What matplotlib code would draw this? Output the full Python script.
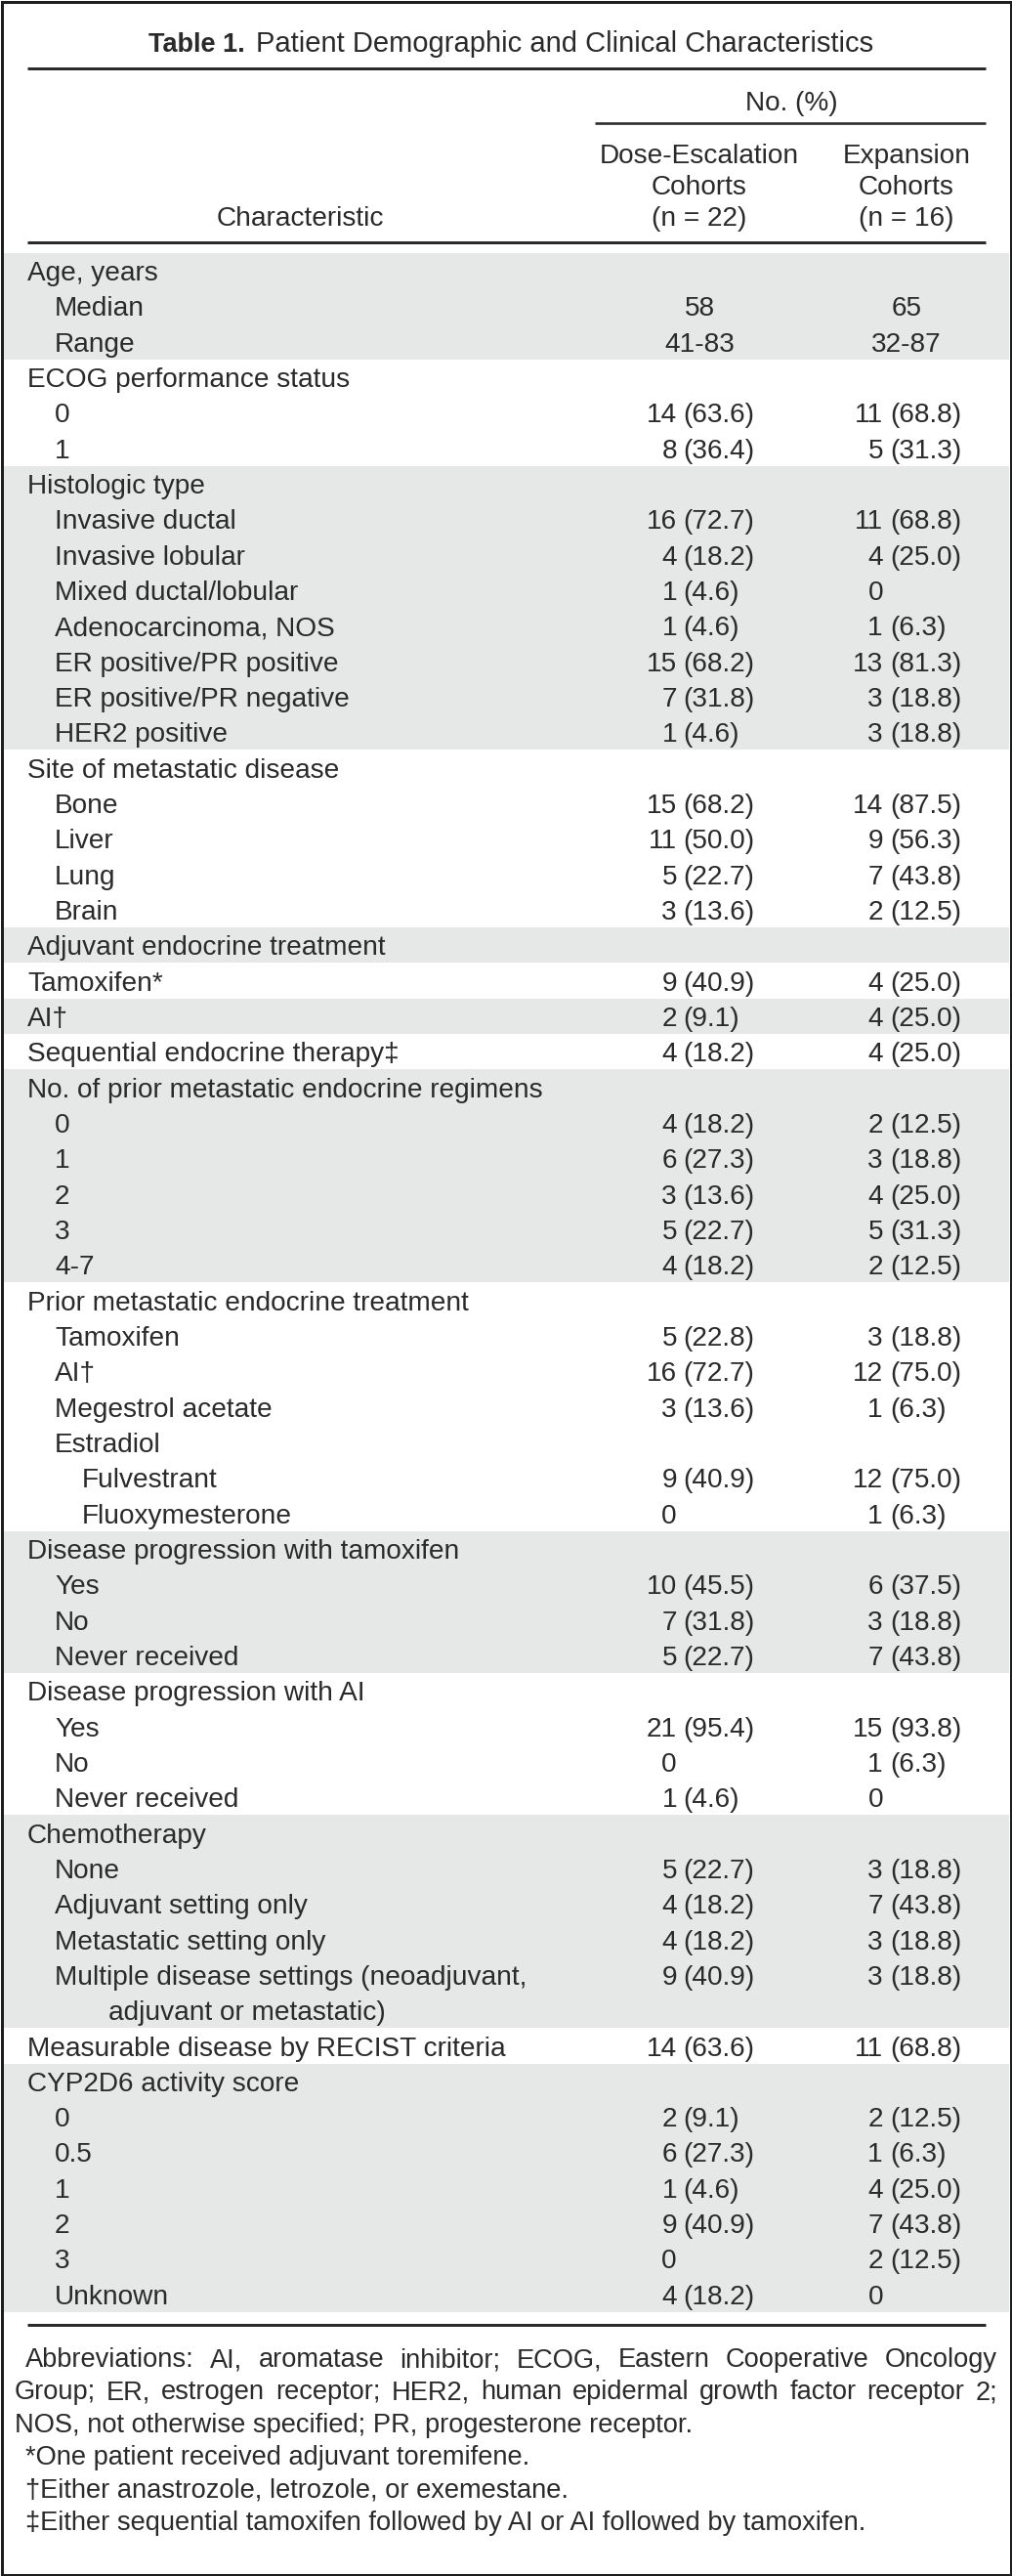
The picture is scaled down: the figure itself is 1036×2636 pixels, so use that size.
import matplotlib
matplotlib.use("Agg")
import matplotlib.pyplot as plt
from matplotlib import font_manager
from matplotlib.patches import Rectangle

# ---- table content ----
title_bold = "Table 1."
title_rest = "Patient Demographic and Clinical Characteristics"
group_header = "No. (%)"
col_headers = [["Dose-Escalation", "Cohorts", "(n = 22)"],
               ["Expansion", "Cohorts", "(n = 16)"]]
stub_header = "Characteristic"

row_labels = [
    "Age, years", "Median", "Range",
    "ECOG performance status", "0", "1",
    "Histologic type", "Invasive ductal", "Invasive lobular", "Mixed ductal/lobular",
    "Adenocarcinoma, NOS", "ER positive/PR positive", "ER positive/PR negative", "HER2 positive",
    "Site of metastatic disease", "Bone", "Liver", "Lung", "Brain",
    "Adjuvant endocrine treatment", "Tamoxifen*", "AI\u2020", "Sequential endocrine therapy\u2021",
    "No. of prior metastatic endocrine regimens", "0", "1", "2", "3", "4-7",
    "Prior metastatic endocrine treatment", "Tamoxifen", "AI\u2020", "Megestrol acetate", "Estradiol",
    "Fulvestrant", "Fluoxymesterone",
    "Disease progression with tamoxifen", "Yes", "No", "Never received",
    "Disease progression with AI", "Yes", "No", "Never received",
    "Chemotherapy", "None", "Adjuvant setting only", "Metastatic setting only",
    "Multiple disease settings (neoadjuvant,", "adjuvant or metastatic)",
    "Measurable disease by RECIST criteria",
    "CYP2D6 activity score", "0", "0.5", "1", "2", "3", "Unknown",
]
row_indent = [0, 1, 1, 0, 1, 1, 0, 1, 1, 1, 1, 1, 1, 1, 0, 1, 1, 1, 1,
              0, 0, 0, 0, 0, 1, 1, 1, 1, 1, 0, 1, 1, 1, 1, 2, 2,
              0, 1, 1, 1, 0, 1, 1, 1, 0, 1, 1, 1, 1, 3, 0, 0, 1, 1, 1, 1, 1, 1]

esc_n = ["", "58", "41-83", "", "14", "8", "", "16", "4", "1", "1", "15", "7", "1",
         "", "15", "11", "5", "3", "", "9", "2", "4", "", "4", "6", "3", "5", "4",
         "", "5", "16", "3", "", "9", "0", "", "10", "7", "5", "", "21", "0", "1",
         "", "5", "4", "4", "9", "", "14", "", "2", "6", "1", "9", "0", "4"]
esc_pct = ["", "", "", "", "63.6", "36.4", "", "72.7", "18.2", "4.6", "4.6", "68.2", "31.8", "4.6",
           "", "68.2", "50.0", "22.7", "13.6", "", "40.9", "9.1", "18.2", "", "18.2", "27.3", "13.6", "22.7", "18.2",
           "", "22.8", "72.7", "13.6", "", "40.9", "", "", "45.5", "31.8", "22.7", "", "95.4", "", "4.6",
           "", "22.7", "18.2", "18.2", "40.9", "", "63.6", "", "9.1", "27.3", "4.6", "40.9", "", "18.2"]
exp_n = ["", "65", "32-87", "", "11", "5", "", "11", "4", "0", "1", "13", "3", "3",
         "", "14", "9", "7", "2", "", "4", "4", "4", "", "2", "3", "4", "5", "2",
         "", "3", "12", "1", "", "12", "1", "", "6", "3", "7", "", "15", "1", "0",
         "", "3", "7", "3", "3", "", "11", "", "2", "1", "4", "7", "2", "0"]
exp_pct = ["", "", "", "", "68.8", "31.3", "", "68.8", "25.0", "", "6.3", "81.3", "18.8", "18.8",
           "", "87.5", "56.3", "43.8", "12.5", "", "25.0", "25.0", "25.0", "", "12.5", "18.8", "25.0", "31.3", "12.5",
           "", "18.8", "75.0", "6.3", "", "75.0", "6.3", "", "37.5", "18.8", "43.8", "", "93.8", "6.3", "",
           "", "18.8", "43.8", "18.8", "18.8", "", "68.8", "", "12.5", "6.3", "25.0", "43.8", "12.5", ""]

centered_rows = [1, 2]   # median / range are centred in the columns
# first row of each shaded/unshaded block (alternating, starting grey)
block_starts = [0, 3, 6, 14, 19, 20, 21, 22, 23, 29, 36, 40, 44, 50, 51]

footnotes = [
    " Abbreviations: AI, aromatase inhibitor; ECOG, Eastern Cooperative Oncology",
    "Group; ER, estrogen receptor; HER2, human epidermal growth factor receptor 2;",
    "NOS, not otherwise specified; PR, progesterone receptor.",
    " *One patient received adjuvant toremifene.",
    " \u2020Either anastrozole, letrozole, or exemestane.",
    " \u2021Either sequential tamoxifen followed by AI or AI followed by tamoxifen.",
]
justified = [True, True, False, False, False, False]


def have_font(name):
    try:
        font_manager.findfont(font_manager.FontProperties(family=name), fallback_to_default=False)
        return True
    except Exception:
        return False


BODY = ["Liberation Sans", "DejaVu Sans"]
BOLD_COND = ["Liberation Sans Narrow", "DejaVu Sans"] if have_font("Liberation Sans Narrow") else BODY
INK = "#2a2a2a"
GREY = "#e6e7e7"
FS = 20.2
FS_NOTE = 19.6
FS_TITLE = 21.0

W, H = 1036, 2636
fig = plt.figure(figsize=(W / 100, H / 100), dpi=100)
ax = fig.add_axes([0, 0, 1, 1])
ax.set_xlim(0, W)
ax.set_ylim(H, 0)
ax.axis("off")
renderer = fig.canvas.get_renderer()

px = 0.72  # points per pixel at 100 dpi
L, R = 28, 1009
indent_x = [28, 56, 84, 111]
n_right = [693, 904]
pct_left = [699, 911]
col_center = [716, 928]

row0, pitch = 277, 36.33
cap_half = 10.0

# shading
nrows = len(row_labels)
for b, start in enumerate(block_starts):
    end = block_starts[b + 1] if b + 1 < len(block_starts) else nrows
    if b % 2 == 0:
        top = row0 + start * pitch - pitch / 2
        ax.add_patch(Rectangle((3, top), W - 6, (end - start) * pitch, color=GREY, lw=0, zorder=0))

# rules
def rule(x0, x1, y, lw_px=3):
    ax.plot([x0, x1], [y, y], color=INK, lw=lw_px * px, solid_capstyle="butt", zorder=2)

rule(L, R, 70)
rule(609, R, 126, 2.6)
rule(L, R, 248)
rule(L, R, 2379)

# title
tb = ax.text(152, 53, title_bold, fontsize=FS_TITLE - 1.5, fontweight="bold", family=BOLD_COND,
             color=INK, ha="left", va="baseline")
bold_end = 152 + tb.get_window_extent(renderer).width
ax.text(max(262, bold_end + 10), 53, title_rest, fontsize=FS_TITLE, family=BODY, color=INK,
        ha="left", va="baseline")

# header
ax.text(810, 113, group_header, fontsize=FS, family=BODY, color=INK, ha="center", va="baseline")
for c, lines in enumerate(col_headers):
    for k, s in enumerate(lines):
        ax.text(col_center[c], 167 + k * 32, s, fontsize=FS, family=BODY, color=INK,
                ha="center", va="baseline")
ax.text(307, 231, stub_header, fontsize=FS, family=BODY, color=INK, ha="center", va="baseline")

# body rows
cols = [(esc_n, esc_pct), (exp_n, exp_pct)]
for i, lab in enumerate(row_labels):
    yb = row0 + i * pitch + cap_half
    ax.text(indent_x[row_indent[i]], yb, lab, fontsize=FS, family=BODY, color=INK,
            ha="left", va="baseline")
    for c, (nv, pv) in enumerate(cols):
        if not nv[i]:
            continue
        if i in centered_rows:
            ax.text(col_center[c], yb, nv[i], fontsize=FS, family=BODY, color=INK,
                    ha="center", va="baseline")
            continue
        ax.text(n_right[c], yb, nv[i], fontsize=FS, family=BODY, color=INK,
                ha="right", va="baseline")
        if pv[i]:
            ax.text(pct_left[c], yb, "(" + pv[i] + ")", fontsize=FS, family=BODY, color=INK,
                    ha="left", va="baseline")

# footnotes (first two lines are justified to the table width)
note_x0, note_x1 = 15, 1021
for k, line in enumerate(footnotes):
    yb = 2413 + k * 33.4 + 9.0
    lead = 11 if line.startswith(" ") else 0
    if not justified[k]:
        ax.text(note_x0 + lead, yb, line.strip(), fontsize=FS_NOTE, family=BODY, color=INK,
                ha="left", va="baseline")
        continue
    words = line.split()
    objs = [ax.text(0, yb, w_, fontsize=FS_NOTE, family=BODY, color=INK,
                    ha="left", va="baseline") for w_ in words]
    widths = [o.get_window_extent(renderer).width for o in objs]
    start = note_x0 + lead
    gap = (note_x1 - start - sum(widths)) / (len(words) - 1)
    if gap < 3:
        # too long for the width: shrink the words slightly
        scale = (note_x1 - start - 3 * (len(words) - 1)) / sum(widths)
        for o in objs:
            o.set_fontsize(FS_NOTE * scale)
        widths = [o.get_window_extent(renderer).width for o in objs]
        gap = (note_x1 - start - sum(widths)) / (len(words) - 1)
    x = start
    for o, w_ in zip(objs, widths):
        o.set_x(x)
        x += w_ + gap

# frame
ax.add_patch(Rectangle((1.5, 1.5), W - 3, H - 3, fill=False, ec="#1e1e1e", lw=3 * px, zorder=5))

fig.savefig("out.png", dpi=100, facecolor="white")
